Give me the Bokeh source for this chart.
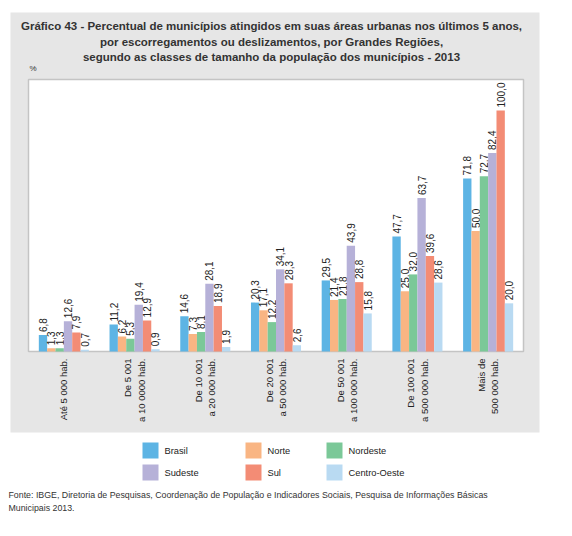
from math import pi
from bokeh.plotting import figure
from bokeh.models import ColumnDataSource, Range1d
from bokeh.transform import dodge
from bokeh.core.properties import value
from bokeh.embed import file_html
from bokeh.resources import INLINE

# ---- data ----
classes = ["Até 5 000 hab.", "De 5 001\na 10 0000 hab.", "De 10 001\na 20 000 hab.",
           "De 20 001\na 50 000 hab.", "De 50 001\na 100 000 hab.",
           "De 100 001\na 500 000 hab.", "Mais de\n500 000 hab."]
series_names = ["Brasil", "Norte", "Nordeste", "Sudeste", "Sul", "Centro-Oeste"]
brasil = [6.8, 11.2, 14.6, 20.3, 29.5, 47.7, 71.8]
norte = [1.3, 6.2, 7.3, 17.1, 21.4, 25.0, 50.0]
nordeste = [1.3, 5.3, 8.1, 12.2, 21.8, 32.0, 72.7]
sudeste = [12.6, 19.4, 28.1, 34.1, 43.9, 63.7, 82.4]
sul = [7.9, 12.9, 18.9, 28.3, 28.8, 39.6, 100.0]
centro_oeste = [0.7, 0.9, 1.9, 2.6, 15.8, 28.6, 20.0]
series_values = [brasil, norte, nordeste, sudeste, sul, centro_oeste]
colors = ["#5DB4E4", "#F9B583", "#7BC898", "#B6B1D8", "#F38C75", "#B9DAF2"]

title_lines = ["Gráfico 43 - Percentual de municípios atingidos em suas áreas urbanas nos últimos 5 anos,",
               "por escorregamentos ou deslizamentos, por Grandes Regiões,",
               "segundo as classes de tamanho da população dos municípios - 2013"]
unit_label = "%"
footer_lines = ["Fonte: IBGE, Diretoria de Pesquisas, Coordenação de População e Indicadores Sociais, Pesquisa de Informações Básicas",
                "Municipais 2013."]

FONT = "Liberation Sans"
GRAY = "#E6E6E6"

# ---- page layout (pixel coordinates of the picture) ----
W, H = 564, 528
PX0, PY0 = 0, 0                      # the canvas starts at the page origin
PANEL = (10, 539, 12, 432)           # gray panel: left, right, top, bottom
BOX = (28, 523, 79, 351)             # plot box: left, right, top, bottom
YMAX = 112.9                         # value at the top of the plot box
LABEL_GAP = 3                        # px between bar top and its value label

p = figure(width=W, height=H, x_range=Range1d(PX0, PX0 + W), y_range=Range1d(PY0 + H, PY0),
           output_backend="svg", toolbar_location=None, x_axis_type=None, y_axis_type=None,
           min_border=0, min_border_left=0, min_border_right=0, min_border_top=0, min_border_bottom=0)
p.outline_line_color = None
p.background_fill_color = "white"
p.border_fill_color = "white"

# scales for the bars: category index on x, percent on y
cw = (BOX[1] - BOX[0]) / len(classes)
p.extra_x_ranges = {"cat": Range1d(-0.5 - (BOX[0] - PX0) / cw,
                                   len(classes) - 0.5 + (PX0 + W - BOX[1]) / cw)}
k = (BOX[3] - BOX[2]) / YMAX
p.extra_y_ranges = {"pct": Range1d(-(PY0 + H - BOX[3]) / k, YMAX + (BOX[2] - PY0) / k)}

# gray panel and white plot box
p.quad(left=[PANEL[0]], right=[PANEL[1]], top=[PANEL[2]], bottom=[PANEL[3]],
       fill_color=GRAY, line_color=None)
p.quad(left=[BOX[0]], right=[BOX[1]], top=[BOX[2]], bottom=[BOX[3]],
       fill_color="white", line_color="#C4C4C4", line_width=1.5)

# titles
p.text(x=[271, 271, 271], y=[25, 41, 56], text=title_lines, text_align="center",
       text_baseline="middle", text_font=value(FONT), text_font_size="11.5px",
       text_font_style="bold", text_color="#333333")
p.text(x=[29], y=[68], text=[unit_label], text_align="left", text_baseline="middle",
       text_font=value(FONT), text_font_size="8px", text_color="#333333")

# bars and value labels
idx = list(range(len(classes)))
bw = 0.118
for i, (name, vals, col) in enumerate(zip(series_names, series_values, colors)):
    off = (i - 2.5) * bw
    src = ColumnDataSource(dict(idx=idx, val=vals,
                                lbl_y=[v + LABEL_GAP / k for v in vals],
                                lbl=[f"{v:.1f}".replace(".", ",") for v in vals]))
    p.vbar(x=dodge("idx", off), top="val", width=bw, bottom=0, source=src,
           fill_color=col, line_color=None, x_range_name="cat", y_range_name="pct")
    p.text(x=dodge("idx", off), y="lbl_y", text="lbl", source=src,
           x_range_name="cat", y_range_name="pct",
           angle=pi / 2, text_align="left", text_baseline="middle",
           text_font=value(FONT), text_font_size="10px", text_color="#222222")

# category labels (rotated)
cat_src = ColumnDataSource(dict(idx=idx, name=classes, y=[BOX[3] + 7] * len(classes)))
p.text(x="idx", y="y", text="name", source=cat_src, x_range_name="cat",
       angle=pi / 2, text_align="right", text_baseline="middle",
       text_font=value(FONT), text_font_size="9.5px", text_color="#222222")

# legend
sw_left = [142, 245, 326, 142, 245, 326]
sw_top = [442, 442, 442, 464, 464, 464]
p.quad(left=sw_left, right=[x + 16 for x in sw_left], top=sw_top,
       bottom=[y + 16 for y in sw_top], fill_color=colors, line_color=None)
p.text(x=[x + 22 for x in sw_left], y=[y + 8 for y in sw_top], text=series_names,
       text_align="left", text_baseline="middle", text_font=value(FONT),
       text_font_size="9.3px", text_color="#222222")

# footer
p.text(x=[8, 8], y=[494, 507], text=footer_lines, text_align="left", text_baseline="middle",
       text_font=value(FONT), text_font_size="8.8px", text_color="#333333")

open("out.html", "w").write(file_html(p, INLINE))
